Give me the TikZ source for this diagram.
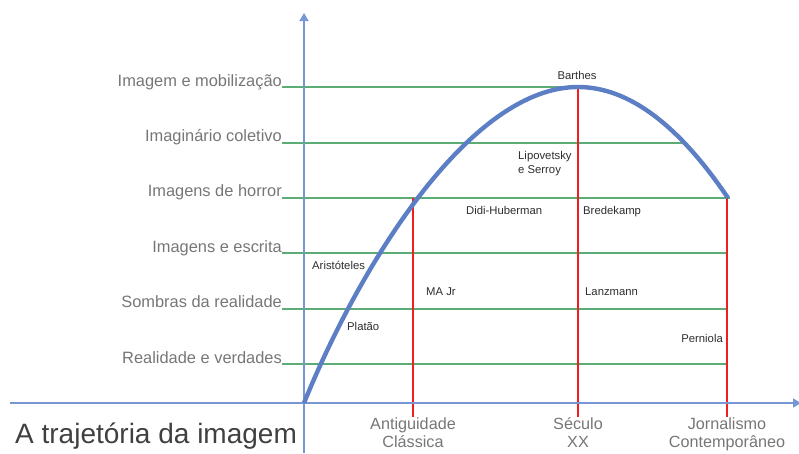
\documentclass[tikz,border=0pt]{standalone}
\usepackage{fontspec}
\setmainfont{Liberation Sans}
\usetikzlibrary{arrows.meta}
\definecolor{axisblue}{RGB}{118,150,212}
\definecolor{curveblue}{RGB}{92,126,196}
\definecolor{gridgreen}{RGB}{92,172,118}
\definecolor{vred}{RGB}{240,30,30}
\definecolor{lblgrey}{RGB}{118,118,118}
\definecolor{titlegrey}{RGB}{64,64,64}
\definecolor{smallgrey}{RGB}{45,45,45}
\tikzset{
  axisline/.style={draw=axisblue, line width=1.6pt, -{Triangle[length=8pt,width=9pt]}},
  gridline/.style={draw=gridgreen, line width=1.9pt},
  redline/.style={draw=vred, line width=1.9pt},
  curveline/.style={draw=curveblue, line width=4.4pt},
  ylabel/.style={anchor=base east, inner sep=0pt, text=lblgrey, font=\fontsize{16.4}{18}\selectfont},
  xlabel/.style={anchor=base, inner sep=0pt, text=lblgrey, align=center, font=\fontsize{16.2}{18}\selectfont},
  small/.style={anchor=base west, inner sep=0pt, text=smallgrey, align=left, font=\fontsize{11.3}{14}\selectfont},
  titletext/.style={anchor=base west, inner sep=0pt, text=titlegrey, font=\fontsize{28}{32}\selectfont}
}
\begin{document}
\begin{tikzpicture}[x=1pt,y=-1pt]
\useasboundingbox (0,0) rectangle (799,453);
% coordinates
\coordinate (O) at (304,403);
\coordinate (ytop) at (304,13);
\coordinate (ybot) at (304,453);
\coordinate (xl) at (10,403);
\coordinate (xr) at (801,403);
\coordinate (A) at (413,198);
\coordinate (P) at (578,87);
\coordinate (E) at (728,198);
% grid lines (green)
\foreach \y/\xe [count=\i] in {87/578, 143/682, 198/730, 253/727, 309/727, 364/727}{
  \coordinate (gs\i) at (282,\y);
  \coordinate (ge\i) at (\xe,\y);
  \draw[gridline] (gs\i) -- (ge\i);
}
% red verticals
\coordinate (r1b) at (413,416.7);
\coordinate (r2b) at (578,416.7);
\coordinate (r3t) at (727,198);
\coordinate (r3b) at (727,416.7);
\draw[redline] (A) -- (r1b);
\draw[redline] (P) -- (r2b);
\draw[redline] (r3t) -- (r3b);
% axes
\draw[axisline] (ybot) -- (ytop);
\draw[axisline] (xl) -- (xr);
% curve
\draw[curveline] (O) .. controls (360,265) and (470,87) .. (P)
  .. controls (628,87) and (678,124) .. (E);
% y labels
\node[ylabel] (y6) at (282,86) {Imagem e mobilização};
\node[ylabel] (y5) at (282,141.5) {Imaginário coletivo};
\node[ylabel] (y4) at (282,196.5) {Imagens de horror};
\node[ylabel] (y3) at (282,252) {Imagens e escrita};
\node[ylabel] (y2) at (282,307.5) {Sombras da realidade};
\node[ylabel] (y1) at (282,363) {Realidade e verdades};
% x labels
\node[xlabel] (x1) at (413,447) {Antiguidade\\Clássica};
\node[xlabel] (x2) at (578,447) {Século\\XX};
\node[xlabel] (x3) at (727,447) {Jornalismo\\Contemporâneo};
% title
\node[titletext] (title) at (15,443) {A trajetória da imagem};
% small labels
\node[small, anchor=base] (barthes) at (577,79) {Barthes};
\node[small] (lipo) at (518,173) {Lipovetsky\\e Serroy};
\node[small] (didi) at (466,214) {Didi-Huberman};
\node[small] (brede) at (583,214) {Bredekamp};
\node[small] (arist) at (312,269) {Aristóteles};
\node[small] (platao) at (347,330) {Platão};
\node[small] (majr) at (426,295) {MA Jr};
\node[small] (lanz) at (585,295) {Lanzmann};
\node[small, anchor=base east] (pern) at (723,342) {Perniola};
\end{tikzpicture}
\end{document}
